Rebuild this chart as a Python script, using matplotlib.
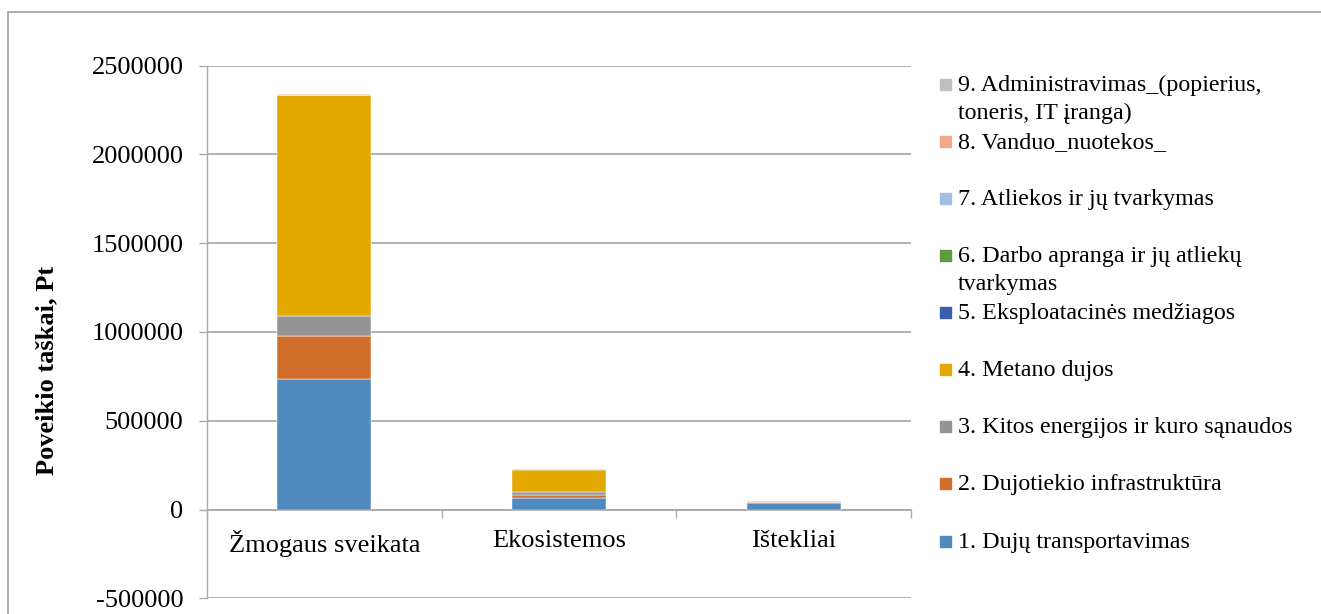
import matplotlib
matplotlib.use("Agg")
import matplotlib.pyplot as plt
from matplotlib.patches import Rectangle
import numpy as np

plt.rcParams['font.family'] = ['Liberation Serif', 'DejaVu Serif']

categories = ["Žmogaus sveikata", "Ekosistemos", "Ištekliai"]

series_names = [
    "1. Dujų transportavimas",
    "2. Dujotiekio infrastruktūra",
    "3. Kitos energijos ir kuro sąnaudos",
    "4. Metano dujos",
    "5. Eksploatacinės medžiagos",
    "6. Darbo apranga ir jų atliekų\ntvarkymas",
    "7. Atliekos ir jų tvarkymas",
    "8. Vanduo_nuotekos_",
    "9. Administravimas_(popierius,\ntoneris, IT įranga)",
]

s1_transport = [733000, 65000, 36000]
s2_infra = [242000, 17000, 6000]
s3_energy = [116000, 15000, 2000]
s4_methane = [1243000, 128000, 1000]
s5_materials = [1500, 300, 200]
s6_clothing = [300, 50, 30]
s7_waste = [800, 200, 100]
s8_water = [600, 150, 300]
s9_admin = [900, 200, 150]

series_values = [s1_transport, s2_infra, s3_energy, s4_methane, s5_materials,
                 s6_clothing, s7_waste, s8_water, s9_admin]

colors = ["#4F89BD", "#D26E2B", "#949494", "#E3A900", "#3A5FAA",
          "#5E9B3E", "#9DC0E4", "#F2A98B", "#BFBFBF"]

y_ticks = [-500000, 0, 500000, 1000000, 1500000, 2000000, 2500000]

W, H = 1321, 614
fig = plt.figure(figsize=(W / 100, H / 100), dpi=100)
ax = fig.add_axes([207 / W, 1 - 598.3 / H, (911 - 207) / W, (598.3 - 65.5) / H])

grid_c = "#ABABAB"
x = np.arange(len(categories))
bottom = np.zeros(len(categories))
for vals, col in zip(series_values, colors):
    v = np.array(vals, dtype=float)
    ax.bar(x, v, 0.4, bottom=bottom, color=col, edgecolor="white",
           linewidth=0.35, zorder=3)
    bottom += v

ax.set_xlim(-0.5, 2.5)
ax.set_ylim(y_ticks[0], y_ticks[-1])
ax.set_yticks(y_ticks)
ax.set_yticklabels([str(t) for t in y_ticks])
ax.yaxis.grid(True, color=grid_c, linewidth=1.3, zorder=0)
ax.set_axisbelow(True)

for s in ["top", "right"]:
    ax.spines[s].set_visible(False)
ax.spines["left"].set_color(grid_c)
ax.spines["left"].set_linewidth(1.0)
ax.spines["bottom"].set_position(("data", 0))
ax.spines["bottom"].set_color(grid_c)
ax.spines["bottom"].set_linewidth(1.3)

ax.set_xticks(x)
ax.set_xticklabels(categories)
ax.set_xticks([-0.5, 0.5, 1.5, 2.5], minor=True)
ax.tick_params(axis="x", which="major", length=0, pad=15, labelsize=19)
ax.tick_params(axis="x", which="minor", length=6, color=grid_c, width=1.0)
ax.tick_params(axis="y", length=6, color=grid_c, width=1.0, pad=11, labelsize=19)

fig.text(47 / W, 1 - 370 / H, "Poveikio taškai, Pt", rotation=90,
         ha="center", va="center", fontsize=19, fontweight="bold")

# legend, listed from the last series down to the first
entry_y = [541, 483, 426, 369, 312, 255, 198, 141, 84]
for name, col, yy in zip(series_names, colors, entry_y):
    fig.add_artist(Rectangle((940 / W, 1 - (yy + 5.5) / H), 11 / W, 11 / H,
                             transform=fig.transFigure, color=col))
    fig.text(958 / W, 1 - (yy - 9) / H, name, ha="left", va="top",
             fontsize=17.3, linespacing=1.42)

# outer frame around the chart
fig.add_artist(Rectangle((8 / W, -0.1), 1.2, 1 - 12 / H + 0.1,
                         transform=fig.transFigure, fill=False,
                         edgecolor="#A0A0A0", linewidth=1.2))

fig.savefig("out.png", dpi=100)
